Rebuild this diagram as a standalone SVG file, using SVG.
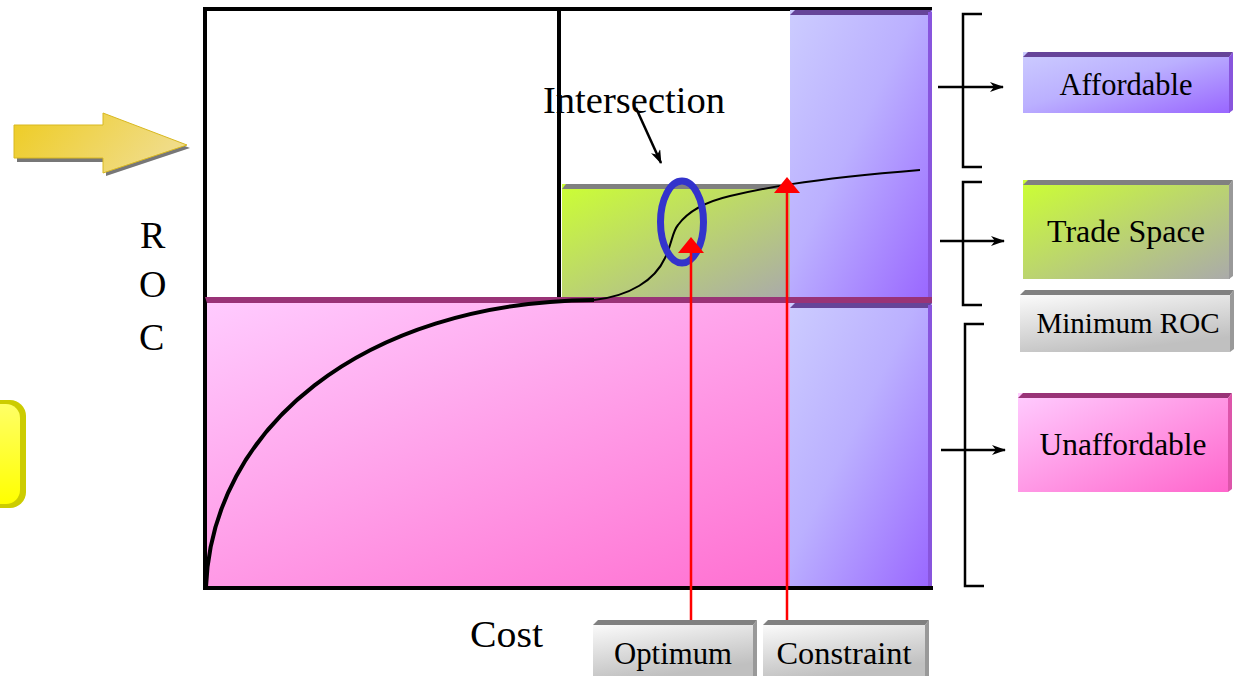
<svg xmlns="http://www.w3.org/2000/svg" width="1234" height="676" viewBox="0 0 1234 676">
<defs>
<linearGradient id="gPurple" x1="0" y1="0" x2="1" y2="1"><stop offset="0" stop-color="#ccccff"/><stop offset="0.45" stop-color="#bbb0ff"/><stop offset="1" stop-color="#9966ff"/></linearGradient>
<linearGradient id="gPink" x1="0" y1="0" x2="1" y2="1"><stop offset="0" stop-color="#ffccff"/><stop offset="1" stop-color="#ff66cc"/></linearGradient>
<linearGradient id="gGreen" x1="0" y1="0" x2="1" y2="1"><stop offset="0" stop-color="#ccff33"/><stop offset="1" stop-color="#aaaaaa"/></linearGradient>
<linearGradient id="gGrey" x1="0" y1="0" x2="0.4" y2="1"><stop offset="0" stop-color="#ffffff"/><stop offset="1" stop-color="#c0c0c0"/></linearGradient>
<linearGradient id="gYellow" x1="0" y1="0" x2="1" y2="0.3"><stop offset="0" stop-color="#eecc22"/><stop offset="1" stop-color="#f0dc88"/></linearGradient>
<linearGradient id="gYbox" x1="0" y1="0" x2="0" y2="1"><stop offset="0" stop-color="#ffff66"/><stop offset="1" stop-color="#ffff00"/></linearGradient>
<marker id="mBlack" markerWidth="14" markerHeight="10" refX="13" refY="5" orient="auto" markerUnits="userSpaceOnUse"><path d="M0,0 L14,5 L0,10 L4,5 Z" fill="#000"/></marker>
</defs>
<style>
text{font-family:"Liberation Serif","Times New Roman",serif;fill:#000}
.lbl{font-size:31px;text-anchor:middle}
.big{font-size:38px}
.br{fill:none;stroke:#000;stroke-width:2.5}
.ar{stroke:#000;stroke-width:2.5;marker-end:url(#mBlack)}
.red{stroke:#ff0000;stroke-width:2.5}
</style>

<g id="left-arrow">
<path d="M17,128 H106 V116 L190,148 L106,176 V162 H17 Z" fill="#777"/>
<path d="M14,125 H103 V113 L187,145 L103,173 V158 H14 Z" fill="url(#gYellow)" stroke="#d8b820" stroke-width="1"/>
</g>
<g id="left-yellow-box">
<rect x="-30" y="400" width="56" height="108" rx="16" fill="#cccc00"/>
<rect x="-30" y="404" width="50" height="100" rx="14" fill="url(#gYbox)"/>
</g>

<g id="chart">
<line x1="203" y1="9" x2="932" y2="9" stroke="#000" stroke-width="4"/>
<line x1="205" y1="7" x2="205" y2="590" stroke="#000" stroke-width="4"/>
<line x1="203" y1="588" x2="933" y2="588" stroke="#000" stroke-width="4"/>
<line x1="559" y1="7" x2="559" y2="298" stroke="#000" stroke-width="4"/>
</g>

<g id="unaffordable-region">
<rect x="207" y="298" width="725" height="288" fill="url(#gPink)"/>
<path d="M205,297 L932,297 L932,303 L207,303 Z" fill="#993377"/>
</g>
<g id="trade-space-region">
<rect x="562" y="184" width="228" height="113" fill="url(#gGreen)"/>
<path d="M562,189 L566,184 L790,184 L790,189 Z" fill="#808080"/>
</g>
<g id="affordable-column-upper">
<rect x="790" y="10" width="142" height="287" fill="url(#gPurple)"/>
<path d="M790,15 L795,10 L932,10 L928,15 Z" fill="#664499"/>
<rect x="928" y="12" width="4" height="285" fill="#8855dd"/>
</g>
<g id="affordable-column-lower">
<rect x="790" y="303" width="142" height="283" fill="url(#gPurple)"/>
<path d="M790,308 L795,303 L932,303 L928,308 Z" fill="#664499"/>
<rect x="928" y="305" width="4" height="281" fill="#8855dd"/>
</g>

<g id="curve">
<path d="M206,587 C212,430 360,302 594,300" fill="none" stroke="#000" stroke-width="4"/>
<path d="M594,300 C630,296 655,280 665,258 C672,244 672,232 678,225 C686,214 700,203 730,196 C760,189 800,180 920,170" fill="none" stroke="#000" stroke-width="2"/>
</g>

<g id="intersection-marker">
<ellipse cx="682" cy="222" rx="21.5" ry="41" fill="none" stroke="#3333cc" stroke-width="7"/>
<text x="543" y="113" style="font-size:37px" textLength="182" lengthAdjust="spacingAndGlyphs">Intersection</text>
</g>

<g id="connectors">
<line class="ar" x1="636" y1="108" x2="661" y2="163"/>
<line class="red" x1="691" y1="620" x2="691" y2="250"/>
<path d="M678,253 L691,237 L704,253 Z" fill="#ff0000"/>
<line class="red" x1="787" y1="620" x2="787" y2="190"/>
<path d="M774,193 L787,177 L800,193 Z" fill="#ff0000"/>
<path class="br" d="M982,14 H963 V167 H982"/>
<path class="br" d="M982,182 H963 V305 H982"/>
<path class="br" d="M984,324 H965 V586 H984"/>
<line class="ar" x1="938" y1="87" x2="1003" y2="87"/>
<line class="ar" x1="940" y1="241" x2="1004" y2="241"/>
<line class="ar" x1="941" y1="450" x2="1005" y2="450"/>
</g>

<g id="axis-labels">
<text class="big" x="470" y="647" textLength="73" lengthAdjust="spacingAndGlyphs">Cost</text>
<text class="big" x="140" y="248">R</text>
<text class="big" x="139" y="297">O</text>
<text class="big" x="139" y="350">C</text>
</g>

<g id="box-affordable">
<rect x="1023" y="52" width="207" height="61" fill="url(#gPurple)"/>
<path d="M1023,57 L1028,52 L1233,52 L1229,57 Z" fill="#664499"/>
<path d="M1229,57 L1233,52 L1233,110 L1229,113 Z" fill="#8855dd"/>
<text class="lbl" x="1126" y="95" textLength="133" lengthAdjust="spacingAndGlyphs">Affordable</text>
</g>
<g id="box-trade-space">
<rect x="1023" y="180" width="207" height="99" fill="url(#gGreen)"/>
<path d="M1023,185 L1028,180 L1233,180 L1229,185 Z" fill="#808080"/>
<path d="M1229,185 L1233,180 L1233,276 L1229,279 Z" fill="#999"/>
<text class="lbl" x="1126" y="242" textLength="158" lengthAdjust="spacingAndGlyphs">Trade Space</text>
</g>
<g id="box-minimum-roc">
<rect x="1020" y="290" width="210" height="62" fill="url(#gGrey)"/>
<path d="M1020,295 L1025,290 L1234,290 L1230,295 Z" fill="#808080"/>
<path d="M1230,295 L1234,290 L1234,349 L1230,352 Z" fill="#999"/>
<text class="lbl" x="1128" y="333" style="font-size:30px" textLength="183" lengthAdjust="spacingAndGlyphs">Minimum ROC</text>
</g>
<g id="box-unaffordable">
<rect x="1018" y="393" width="210" height="99" fill="url(#gPink)"/>
<path d="M1018,398 L1023,393 L1232,393 L1228,398 Z" fill="#993377"/>
<path d="M1228,398 L1232,393 L1232,489 L1228,492 Z" fill="#dd55aa"/>
<text class="lbl" x="1123" y="455" textLength="167" lengthAdjust="spacingAndGlyphs">Unaffordable</text>
</g>
<g id="box-optimum">
<rect x="593" y="620" width="164" height="56" fill="url(#gGrey)"/>
<path d="M593,625 L598,620 L757,620 L753,625 Z" fill="#808080"/>
<path d="M753,625 L757,620 L757,676 L753,676 Z" fill="#999"/>
<text class="lbl" x="673" y="664" textLength="118" lengthAdjust="spacingAndGlyphs">Optimum</text>
</g>
<g id="box-constraint">
<rect x="763" y="620" width="166" height="56" fill="url(#gGrey)"/>
<path d="M763,625 L768,620 L929,620 L925,625 Z" fill="#808080"/>
<path d="M925,625 L929,620 L929,676 L925,676 Z" fill="#999"/>
<text class="lbl" x="844" y="664" textLength="135" lengthAdjust="spacingAndGlyphs">Constraint</text>
</g>
</svg>
